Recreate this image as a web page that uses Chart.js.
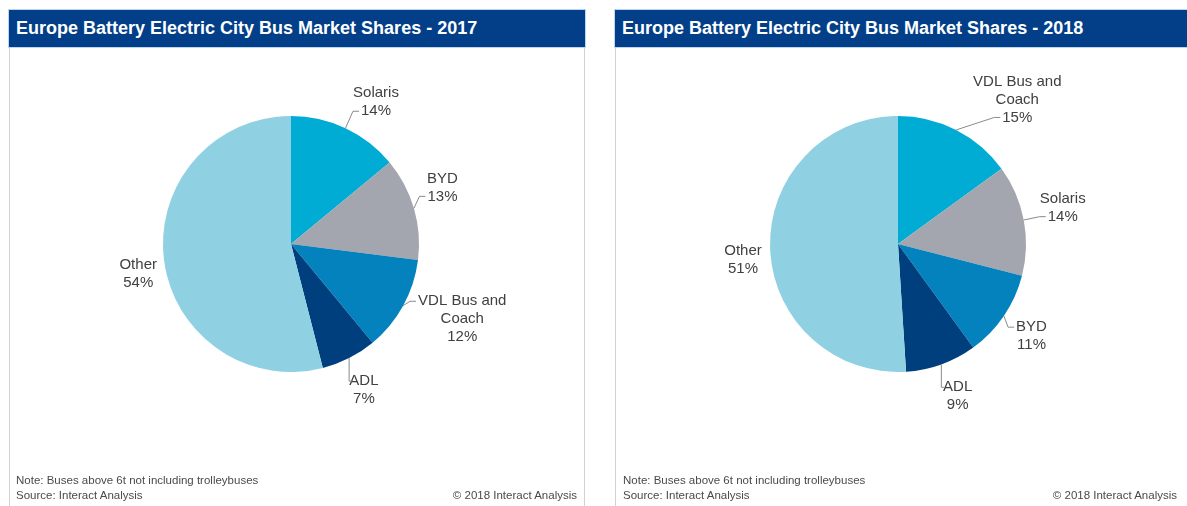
<!DOCTYPE html>
<html>
<head>
<meta charset="utf-8">
<script src="https://cdn.jsdelivr.net/npm/chart.js@4.4.1/dist/chart.umd.min.js"></script>
<style>
  body { margin: 0; width: 1187px; height: 506px; background: #fff; overflow: hidden; position: relative; font-family: "Liberation Sans", Arial, sans-serif; }
  .panel { position: absolute; top: 10px; height: 496px; width: 576px; box-sizing: border-box; border-left: 1px solid #d2d2d2; border-right: 1px solid #d2d2d2; }
  .head { position: absolute; left: -1px; right: -1px; top: 0; height: 37px; background: #023f88; color: #fff; font-weight: bold; font-size: 18px; line-height: 37px; padding-left: 7px; box-shadow: 0 0 0 1px #bcd6ee; }
  .panel canvas { position: absolute; left: 0; top: 37px; }
  .foot { position: absolute; font-size: 11.5px; color: #4a4a4a; }
</style>
</head>
<body>
<div class="panel" style="left:9px">
  <div class="head">Europe Battery Electric City Bus Market Shares - 2017</div>
  <canvas id="pie2017" width="574" height="459"></canvas>
  <div class="foot" style="left:6px;top:464px">Note: Buses above 6t not including trolleybuses</div>
  <div class="foot" style="left:6px;top:479px">Source: Interact Analysis</div>
  <div class="foot" style="right:7px;top:479px">© 2018 Interact Analysis</div>
</div>
<div class="panel" style="left:615px">
  <div class="head">Europe Battery Electric City Bus Market Shares - 2018</div>
  <canvas id="pie2018" width="574" height="459"></canvas>
  <div class="foot" style="left:7px;top:464px">Note: Buses above 6t not including trolleybuses</div>
  <div class="foot" style="left:7px;top:479px">Source: Interact Analysis</div>
  <div class="foot" style="right:13px;top:479px">© 2018 Interact Analysis</div>
</div>
<script>
const categories2017 = ["Solaris", "BYD", "VDL Bus and Coach", "ADL", "Other"];
const shares2017 = [14, 13, 12, 7, 54];

const categories2018 = ["VDL Bus and Coach", "Solaris", "BYD", "ADL", "Other"];
const shares2018 = [15, 14, 11, 9, 51];

const sliceColors = ["#00acd4", "#a3a6ae", "#0382bd", "#003f7d", "#8fd1e3"];

// labels outside the pie with small leader lines, like the excel ones
const outsideLabels = {
  id: "outsideLabels",
  afterDatasetsDraw(chart, args, opts) {
    const ctx = chart.ctx;
    const meta = chart.getDatasetMeta(0);
    const data = chart.data.datasets[0].data;
    const lineH = 18;
    ctx.save();
    ctx.font = "15px 'Liberation Sans', Arial, sans-serif";
    ctx.textAlign = "center";
    ctx.textBaseline = "middle";
    meta.data.forEach((arc, i) => {
      const { x, y, startAngle, endAngle, outerRadius } = arc.getProps(["x", "y", "startAngle", "endAngle", "outerRadius"], true);
      const mid = (startAngle + endAngle) / 2;
      const nudge = ((opts.nudge && opts.nudge[i]) || 0) * Math.PI / 180;
      const gap = (opts.gaps && opts.gaps[i]) || 18;
      const lab = mid + nudge;

      // wrap the category name
      const words = chart.data.labels[i].split(" ");
      const lines = [];
      let cur = "";
      words.forEach((w) => {
        const t = cur ? cur + " " + w : w;
        if (cur && ctx.measureText(t).width > 95) { lines.push(cur); cur = w; } else cur = t;
      });
      lines.push(cur);
      lines.push(data[i] + "%");

      const w = Math.max(...lines.map((l) => ctx.measureText(l).width));
      const h = lines.length * lineH;
      const dx = Math.cos(lab), dy = Math.sin(lab);
      const px = x + (outerRadius + gap) * dx;
      const py = y + (outerRadius + gap) * dy;
      const cx = px + dx * w / 2;
      const cy = py + dy * h / 2;
      const top = cy - h / 2;

      ctx.fillStyle = "#404040";
      lines.forEach((l, k) => ctx.fillText(l, cx, top + lineH * (k + 0.5)));

      if (opts.noLeader && opts.noLeader.includes(chart.data.labels[i])) return;
      const sx = x + outerRadius * Math.cos(mid);
      const sy = y + outerRadius * Math.sin(mid);
      let best = 0;
      lines.forEach((l, k) => {
        const ly = top + lineH * (k + 0.5);
        if (Math.abs(ly - sy) < Math.abs(top + lineH * (best + 0.5) - sy)) best = k;
      });
      const ay = top + lineH * (best + 0.5);
      const lw = ctx.measureText(lines[best]).width;
      ctx.strokeStyle = "#8a8a8a";
      ctx.lineWidth = 1;
      ctx.beginPath();
      if (cx >= x) {
        const ax = Math.max(sx + 3, cx - lw / 2 - 2);
        const ex = Math.max(sx, ax - 6);
        ctx.moveTo(sx, sy); ctx.lineTo(ex, ay); ctx.lineTo(ax, ay);
      } else {
        const ax = Math.min(sx - 3, cx + lw / 2 + 2);
        const ex = Math.min(sx, ax + 6);
        ctx.moveTo(sx, sy); ctx.lineTo(ex, ay); ctx.lineTo(ax, ay);
      }
      ctx.stroke();
    });
    ctx.restore();
  },
};

function makePie(el, labels, values, pad, extra) {
  return new Chart(document.getElementById(el), {
    type: "pie",
    data: {
      labels: labels,
      datasets: [{ data: values, backgroundColor: sliceColors, borderWidth: 0 }],
    },
    options: {
      responsive: false,
      animation: false,
      layout: { padding: pad },
      plugins: {
        legend: { display: false },
        tooltip: { enabled: false },
        outsideLabels: Object.assign({ noLeader: ["Other"] }, extra),
      },
    },
    plugins: [outsideLabels],
  });
}

makePie("pie2017", categories2017, shares2017, { left: 153, right: 165, top: 69, bottom: 134 },
  { nudge: [5, -4, -3, 0, -4], gaps: [18, 18, 18, 18, 9] });
makePie("pie2018", categories2018, shares2018, { left: 154, right: 164, top: 69, bottom: 134 },
  { nudge: [10, -2, 0, -2, -4], gaps: [26, 18, 18, 18, 9] });
</script>
</body>
</html>
